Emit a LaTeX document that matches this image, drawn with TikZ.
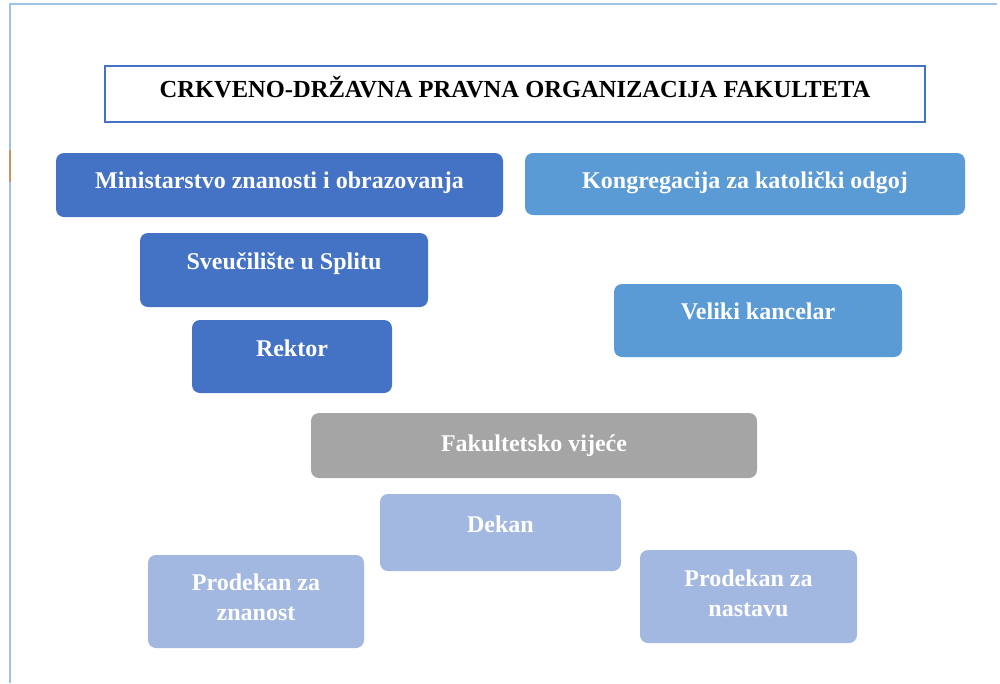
\documentclass[tikz,border=0pt]{standalone}
\usepackage{fontspec}
\setmainfont{Liberation Serif}
\usetikzlibrary{fit}
\definecolor{cdark}{HTML}{4472C4}
\definecolor{cmid}{HTML}{5B9BD5}
\definecolor{cgray}{HTML}{A5A5A5}
\definecolor{clight}{HTML}{A2B8E0}
\definecolor{cframe}{HTML}{9DC3E6}
\definecolor{corange}{HTML}{C8955F}
\begin{document}
\begin{tikzpicture}[x=0.75pt,y=-0.75pt,
  bx/.style={draw=none, rounded corners=6pt, inner sep=0pt},
  titlebox/.style={draw=cdark, line width=1.2pt, fill=white, inner sep=0pt},
  lbl/.style={text=white, font=\fontsize{18}{22.5}\selectfont\bfseries, anchor=base, align=center, inner sep=0pt},
  tlbl/.style={text=black, font=\fontsize{18.4}{22}\selectfont\bfseries, anchor=base, inner sep=0pt},
  frame/.style={draw=cframe, line width=0.9pt}]
\useasboundingbox (0,0) rectangle (1000,683);
\fill[white] (0,0) rectangle (1000,683);
% frame lines
\coordinate (f1) at (10,683);
\coordinate (f2) at (10,4);
\coordinate (f3) at (997,4);
\draw[frame] (f1) -- (f2) -- (f3);
\coordinate (o1) at (10,150);
\coordinate (o2) at (10,182);
\draw[draw=corange, line width=1pt] (o1) -- (o2);
% title
\node[titlebox, fit={(105,66) (925,122)}] (title) {};
\node[tlbl] (titleT) at (515,97.5) {CRKVENO-DRŽAVNA PRAVNA ORGANIZACIJA FAKULTETA};
% boxes
\node[bx, fill=cdark, fit={(56,153) (503,217)}] (min) {};
\node[lbl] (minT) at (279.5,188) {Ministarstvo znanosti i obrazovanja};
\node[bx, fill=cmid, fit={(525,153) (965,215)}] (kong) {};
\node[lbl] (kongT) at (745,188) {Kongregacija za katolički odgoj};
\node[bx, fill=cdark, fit={(140,233) (428,307)}] (sveu) {};
\node[lbl] (sveuT) at (284,269) {Sveučilište u Splitu};
\node[bx, fill=cdark, fit={(192,320) (392,393)}] (rek) {};
\node[lbl] (rekT) at (292,356) {Rektor};
\node[bx, fill=cmid, fit={(614,284) (902,357)}] (vel) {};
\node[lbl] (velT) at (758,319) {Veliki kancelar};
\node[bx, fill=cgray, fit={(311,413) (757,478)}] (fak) {};
\node[lbl] (fakT) at (534,451) {Fakultetsko vijeće};
\node[bx, fill=clight, fit={(380,494) (621,571)}] (dek) {};
\node[lbl] (dekT) at (500.5,532.5) {Dekan};
\node[bx, fill=clight, fit={(148,555) (364,648)}] (pzn) {};
\node[lbl] (pznT) at (256,620) {Prodekan za\\znanost};
\node[bx, fill=clight, fit={(640,550) (857,643)}] (pna) {};
\node[lbl] (pnaT) at (748.5,616) {Prodekan za\\nastavu};
\end{tikzpicture}
\end{document}
